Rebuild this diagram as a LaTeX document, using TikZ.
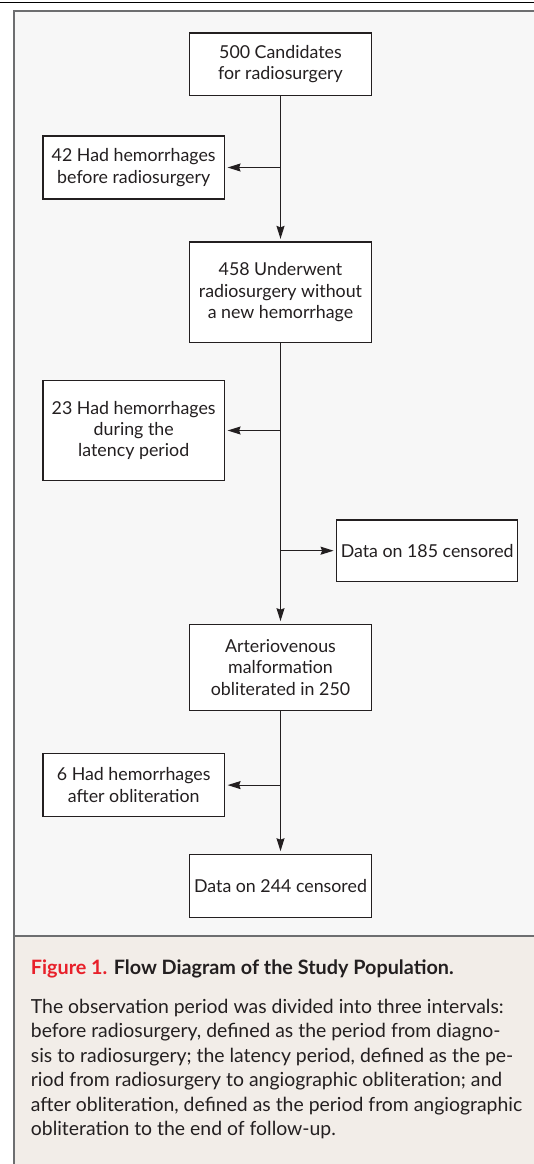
\documentclass[tikz,border=0pt]{standalone}
\usepackage{fontspec}
\setmainfont{Lato}
\usetikzlibrary{arrows.meta}
\definecolor{diagbg}{HTML}{F7F7F7}
\definecolor{capbg}{HTML}{F2EDE8}
\definecolor{framegray}{HTML}{6D6E70}
\definecolor{ink}{HTML}{231F20}
\definecolor{figred}{HTML}{E8202A}
\begin{document}
\begin{tikzpicture}[x=1pt,y=-1pt,
  box/.style={draw=ink, line width=1.2pt, fill=white, text=ink, align=center, inner sep=0pt,
    minimum width=181.6pt, font=\fontsize{17.8}{21.3}\selectfont},
  arr/.style={draw=ink, line width=1.2pt, -{Stealth[length=13pt,width=8pt,inset=1.5pt]}, shorten >=2.5pt},
  frameline/.style={draw=framegray, line width=2pt}]
\useasboundingbox (0,0) rectangle (534,1164);
\begin{scope}
  \clip (0,0) rectangle (534,1164);
  \fill[diagbg] (13.6,11) rectangle (540,936.4);
  \fill[capbg] (13.6,936.4) rectangle (540,1170);
  \draw[frameline] (540,11) -- (13.6,11) -- (13.6,1170);
  \draw[frameline] (13.6,936.4) -- (540,936.4);
\end{scope}
\draw[black, line width=1.3pt] (0,2.7) -- (534,2.7);

\node[box, minimum height=62.4pt] (b500) at (280.5,64.2) {500 Candidates\\for radiosurgery};
\node[box, minimum height=63pt] (b42) at (133.7,167.5) {42 Had hemorrhages\\before radiosurgery};
\node[box, minimum height=100.5pt] (b458) at (280.5,292.2) {458 Underwent\\radiosurgery without\\a new hemorrhage};
\node[box, minimum height=100.5pt] (b23) at (133.7,430.5) {23 Had hemorrhages\\during the\\latency period};
\node[box, minimum height=61.5pt, minimum width=181pt] (b185) at (427.2,550.7) {Data on 185 censored};
\node[box, minimum height=86.5pt] (bavm) at (280.5,667.5) {Arteriovenous\\malformation\\obliterated in 250};
\node[box, minimum height=63pt] (b6) at (133.7,785.1) {6 Had hemorrhages\\after obliteration};
\node[box, minimum height=63pt] (b244) at (280.5,885.8) {Data on 244 censored};

\draw[arr] (b500.south) -- (b458.north);
\draw[arr] (b500.south |- b42.east) -- (b42.east);
\draw[arr] (b458.south) -- (bavm.north);
\draw[arr] (b458.south |- b23.east) -- (b23.east);
\draw[arr] (b458.south |- b185.west) -- (b185.west);
\draw[arr] (bavm.south) -- (b244.north);
\draw[arr] (bavm.south |- b6.east) -- (b6.east);

\node[anchor=base west, inner sep=0pt, text=ink, font=\fontsize{19.8}{24.5}\selectfont\bfseries] (title) at (30.7,974.5)
  {\textcolor{figred}{Figure 1.} Flow Diagram of the Study Population.};
\node[anchor=base west, inner sep=0pt, text=ink, align=left, font=\fontsize{19.4}{24.5}\selectfont] (body) at (30.7,1135.5)
  {The observation period was divided into three intervals:\\
   before radiosurgery, defined as the period from diagno-\\
   sis to radiosurgery; the latency period, defined as the pe-\\
   riod from radiosurgery to angiographic obliteration; and\\
   after obliteration, defined as the period from angiographic\\
   obliteration to the end of follow-up.};
\end{tikzpicture}
\end{document}
